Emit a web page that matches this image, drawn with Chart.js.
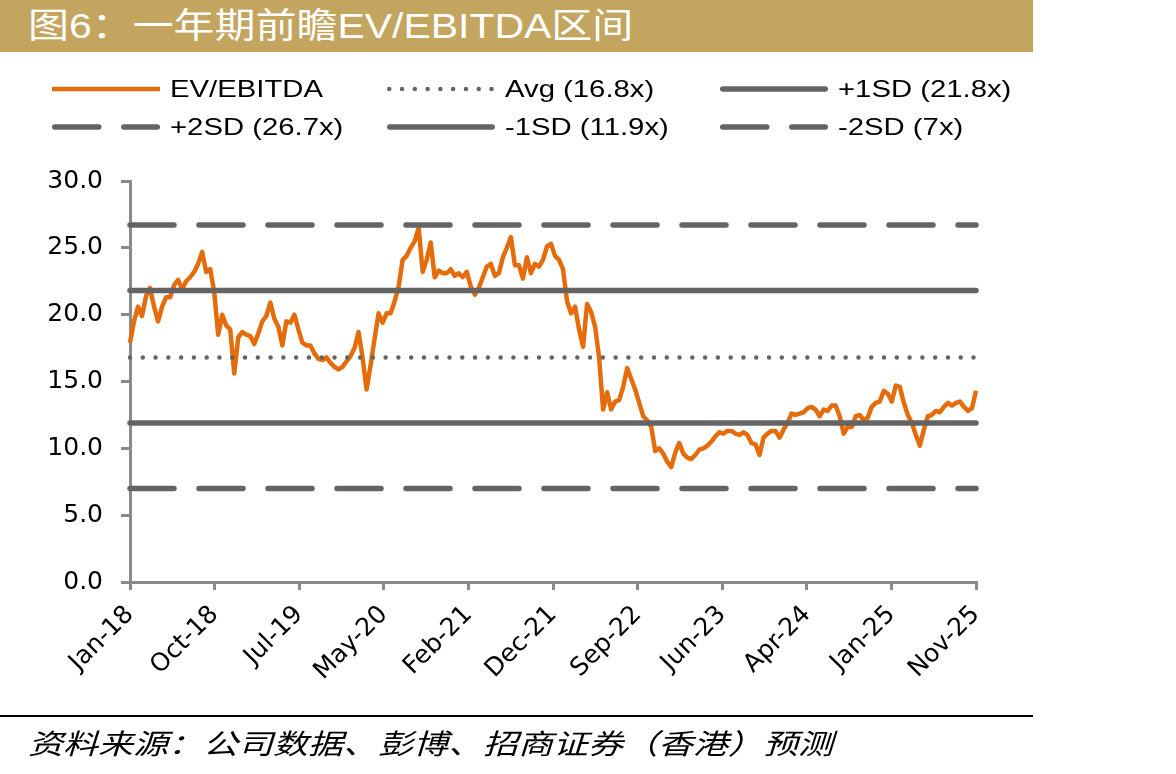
<!DOCTYPE html>
<html><head><meta charset="utf-8">
<script src="https://cdn.jsdelivr.net/npm/chart.js@4.4.1/dist/chart.umd.min.js"></script>
<style>
html,body{margin:0;padding:0;background:#fff;width:1176px;height:774px;overflow:hidden;}
#wrap{position:relative;width:1176px;height:774px;}
#c{position:absolute;left:0;top:0;}
#title{position:absolute;left:0;top:0;width:1033px;height:52px;background:#C4A55F;z-index:2;}
#title span{position:absolute;left:28px;top:0;line-height:52px;color:#fff;font-size:35px;font-family:'Liberation Sans','Noto Sans CJK SC',sans-serif;transform:scaleX(1.17);transform-origin:left center;white-space:nowrap;}
#rule{position:absolute;left:0;top:715px;width:1033px;height:2px;background:#000;z-index:2;}
#src{position:absolute;left:28px;top:727px;line-height:30px;font-size:28px;font-style:italic;font-family:'Noto Sans CJK SC',sans-serif;color:#000;transform:scaleX(1.25);transform-origin:left center;white-space:nowrap;z-index:2;}
.lg{position:absolute;height:28px;display:flex;align-items:center;z-index:2;}
.lg svg{display:block;}
.lg span{margin-left:10px;font-size:24px;line-height:28px;font-family:'Liberation Sans',Arial,sans-serif;color:#000;transform:scaleX(1.22);transform-origin:left center;white-space:nowrap;}
</style></head>
<body><div id="wrap">
<canvas id="c" width="1176" height="774"></canvas>
<div id="title"><span>图6：一年期前瞻EV/EBITDA区间</span></div>
<div id="rule"></div>
<div id="src">资料来源：公司数据、彭博、招商证券（香港）预测</div>
</div>
<script>
const tickLabels = ['Jan-18','Oct-18','Jul-19','May-20','Feb-21','Dec-21','Sep-22','Jun-23','Apr-24','Jan-25','Nov-25'];
const evEbitda = [
17.9,19.5,20.6,19.9,21.4,22.0,20.6,19.5,20.6,21.3,21.3,22.2,22.6,21.9,22.5,22.8,23.2,23.8,24.7,23.2,
23.4,21.7,18.5,20.0,19.2,18.9,15.6,18.3,18.7,18.5,18.4,17.8,18.6,19.5,19.9,20.9,19.7,19.1,17.7,19.5,
19.4,20.0,18.9,17.9,17.7,17.7,17.1,16.7,16.6,16.8,16.4,16.1,15.9,16.1,16.5,16.9,17.5,18.7,16.8,14.4,
16.2,18.2,20.1,19.4,20.1,20.1,21.0,22.1,24.1,24.4,25.0,25.5,26.5,23.2,24.1,25.4,22.8,23.3,23.1,23.1,
23.4,22.9,23.1,22.8,23.2,22.1,21.5,22.0,22.8,23.6,23.8,22.9,23.1,24.3,25.0,25.8,23.7,23.7,22.7,24.3,
23.1,23.8,23.6,24.1,25.1,25.3,24.4,24.1,23.4,21.0,20.1,20.6,18.9,17.6,20.8,20.2,19.1,16.8,12.9,14.2,
12.9,13.5,13.6,14.6,16.0,15.2,14.4,13.4,12.4,12.1,11.6,9.8,10.0,9.6,9.0,8.6,9.7,10.4,9.6,9.3,
9.2,9.5,9.9,10.0,10.2,10.5,10.9,11.2,11.1,11.3,11.3,11.1,11.0,11.2,11.0,10.4,10.3,9.5,10.8,11.1,
11.3,11.3,10.8,11.4,11.9,12.6,12.5,12.6,12.7,13.0,13.1,12.9,12.4,12.9,12.8,13.2,13.2,12.4,11.1,11.6,
11.6,12.4,12.5,12.1,12.3,13.1,13.4,13.5,14.3,14.1,13.5,14.7,14.6,13.4,12.5,11.9,11.0,10.2,11.4,12.4,
12.5,12.8,12.7,13.1,13.4,13.2,13.4,13.5,13.1,12.8,13.0,14.3
];
const avgVal = 16.8, plus1SD = 21.8, plus2SD = 26.7, minus1SD = 11.9, minus2SD = 7.0;
const yTicks = [0,5,10,15,20,25,30];

const N = evEbitda.length;
const ORANGE = '#E46C0A', GREY = '#646464', AXIS = '#8A8A8A';
const flat = v => [{x:0,y:v},{x:N-1,y:v}];
const solid = {borderColor:GREY,borderWidth:5.5,borderCapStyle:'round',borderDash:[]};
const dashed = {borderColor:GREY,borderWidth:5.5,borderCapStyle:'round',borderDash:[44,25]};
const dotted = {borderColor:GREY,borderWidth:4.5,borderCapStyle:'round',borderDash:[0.01,12.77]};

const datasets = [
  {label:'EV/EBITDA', data:evEbitda.map((v,i)=>({x:i,y:v})), borderColor:ORANGE, borderWidth:4.5, borderJoinStyle:'round', order:1, lg:{col:0,row:0}},
  Object.assign({label:'Avg ('+avgVal+'x)', data:flat(avgVal), order:0, lg:{col:1,row:0}}, dotted),
  Object.assign({label:'+1SD ('+plus1SD+'x)', data:flat(plus1SD), order:0, lg:{col:2,row:0}}, solid),
  Object.assign({label:'+2SD ('+plus2SD+'x)', data:flat(plus2SD), order:0, lg:{col:0,row:1}}, dashed),
  Object.assign({label:'-1SD ('+minus1SD+'x)', data:flat(minus1SD), order:0, lg:{col:1,row:1}}, solid),
  Object.assign({label:'-2SD ('+minus2SD+'x)', data:flat(minus2SD), order:0, lg:{col:2,row:1}}, dashed)
];
datasets.forEach(d=>{d.pointRadius=0;d.pointHoverRadius=0;d.tension=0;d.fill=false;d.clip=false;});

// HTML legend built from datasets
const legCols=[52,387,720], legRows=[89,127];
const wrap=document.getElementById('wrap');
datasets.forEach(d=>{
  const el=document.createElement('div'); el.className='lg';
  el.style.left=legCols[d.lg.col]+'px'; el.style.top=(legRows[d.lg.row]-14)+'px';
  const dash=(d.borderDash&&d.borderDash.length)?d.borderDash.join(','):'none';
  const cap=d.borderCapStyle||'butt';
  const x1=(cap==='round')?d.borderWidth/2:0, x2=108-x1;
  el.innerHTML='<svg width="108" height="28"><line x1="'+x1+'" y1="14" x2="'+x2+'" y2="14" stroke="'+d.borderColor+'" stroke-width="'+d.borderWidth+'" stroke-linecap="'+cap+'" stroke-dasharray="'+dash+'"/></svg><span>'+d.label+'</span>';
  wrap.appendChild(el);
});

new Chart(document.getElementById('c'), {
  type:'line',
  data:{datasets},
  options:{
    responsive:false, animation:false, devicePixelRatio:1,
    layout:{padding:{top:181,right:200,bottom:72,left:0}},
    plugins:{legend:{display:false},title:{display:false},tooltip:{enabled:false}},
    scales:{
      x:{type:'linear',min:0,max:N-1,
        afterBuildTicks:s=>{s.ticks=tickLabels.map((l,i)=>({value:i*(N-1)/(tickLabels.length-1)}));},
        afterFit:s=>{s.height=120;},
        ticks:{autoSkip:false,minRotation:45,maxRotation:45,padding:10,color:'#000',
          font:{family:'DejaVu Sans',size:25},
          callback:(v,i)=>tickLabels[i]},
        grid:{display:true,drawOnChartArea:false,drawTicks:true,tickLength:8,color:AXIS,lineWidth:3},
        border:{display:true,color:AXIS,width:3}
      },
      y:{min:0,max:30,
        afterBuildTicks:s=>{s.ticks=yTicks.map(v=>({value:v}));},
        afterFit:s=>{s.width=130;},
        ticks:{padding:18,color:'#000',font:{family:'DejaVu Sans',size:25},callback:v=>Number(v).toFixed(1)},
        grid:{display:true,drawOnChartArea:false,drawTicks:true,tickLength:9,color:AXIS,lineWidth:3},
        border:{display:true,color:AXIS,width:3}
      }
    }
  }
});
</script>
</body></html>
